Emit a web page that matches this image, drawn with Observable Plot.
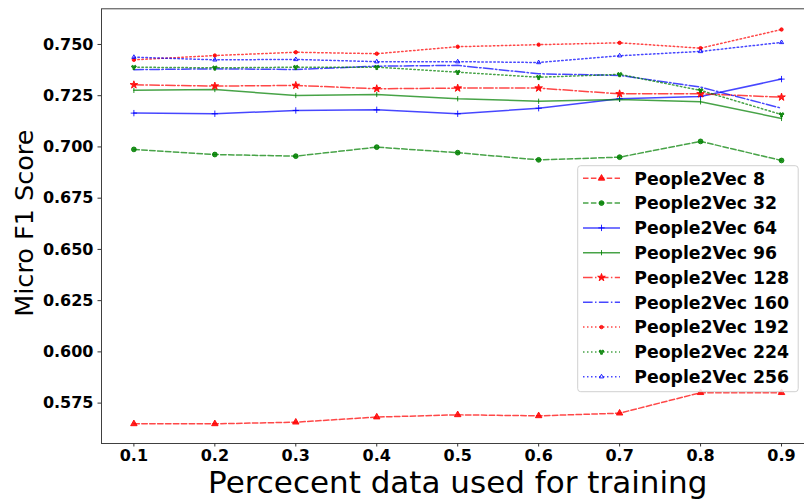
<!DOCTYPE html>
<html>
<head>
<meta charset="utf-8">
<script src="https://cdn.jsdelivr.net/npm/d3@7"></script>
<script src="https://cdn.jsdelivr.net/npm/@observablehq/plot@0.6"></script>
<style>
  html, body { margin: 0; padding: 0; background: #fff; overflow: hidden; }
  #chart { position: relative; width: 804px; height: 500px; overflow: hidden; }
  #chart svg { overflow: hidden; }
  #legend { position: absolute; left: 0; top: 0; }
</style>
</head>
<body>
<div id="chart"></div>
<script>
// Fraction of the data used for training (x axis)
const fractions = [0.1, 0.2, 0.3, 0.4, 0.5, 0.6, 0.7, 0.8, 0.9];

// Micro F1 score per embedding size
const p2v8   = [0.5649, 0.5649, 0.5657, 0.5682, 0.5693, 0.5688, 0.5701, 0.5801, 0.5801];
const p2v32  = [0.6988, 0.6963, 0.6955, 0.6999, 0.6972, 0.6937, 0.6950, 0.7027, 0.6934];
const p2v64  = [0.7165, 0.7162, 0.7178, 0.7181, 0.7162, 0.7189, 0.7235, 0.7246, 0.7331];
const p2v96  = [0.7276, 0.7280, 0.7251, 0.7256, 0.7235, 0.7223, 0.7232, 0.7220, 0.7139];
const p2v128 = [0.7303, 0.7297, 0.7300, 0.7284, 0.7287, 0.7287, 0.7259, 0.7259, 0.7243];
const p2v160 = [0.7377, 0.7381, 0.7378, 0.7394, 0.7398, 0.7357, 0.7349, 0.7292, 0.7189];
const p2v192 = [0.7425, 0.7446, 0.7462, 0.7455, 0.7489, 0.7499, 0.7508, 0.7482, 0.7573];
const p2v224 = [0.7389, 0.7386, 0.7389, 0.7389, 0.7365, 0.7340, 0.7354, 0.7276, 0.7158];
const p2v256 = [0.7438, 0.7425, 0.7427, 0.7416, 0.7416, 0.7412, 0.7445, 0.7466, 0.7510];

const seriesNames  = ["People2Vec 8", "People2Vec 32", "People2Vec 64", "People2Vec 96", "People2Vec 128",
                      "People2Vec 160", "People2Vec 192", "People2Vec 224", "People2Vec 256"];
const seriesValues = [p2v8, p2v32, p2v64, p2v96, p2v128, p2v160, p2v192, p2v224, p2v256];

// Tick values and axis titles
const yTicks = [0.575, 0.600, 0.625, 0.650, 0.675, 0.700, 0.725, 0.750];
const xTicks = fractions;
const xTitle = "Percecent data used for training";
const yTitle = "Micro F1 Score";

// Line styling: colour, dash pattern and marker per series
const RED = "#ff0000", GREEN = "#008000", BLUE = "#0000ff";
const DASHED = "5.5,2.4", DASHDOT = "9.6,2.4,1.5,2.4", DOTTED = "1.5,2.5", SOLID = null;

// a short vertical bar marker
const vline = {
  draw(context, size) {
    const r = Math.sqrt(size / Math.PI);
    context.moveTo(0, -r);
    context.lineTo(0, r);
  }
};

const styles = [
  {color: RED,   dash: DASHED,  symbol: d3.symbolTriangle,  r: 2.4, filled: true},
  {color: GREEN, dash: DASHED,  symbol: d3.symbolCircle,    r: 2.4, filled: true},
  {color: BLUE,  dash: SOLID,   symbol: d3.symbolPlus,      r: 2.2, filled: false},
  {color: GREEN, dash: SOLID,   symbol: vline,              r: 2.6, filled: false},
  {color: RED,   dash: DASHDOT, symbol: d3.symbolStar,      r: 2.4, filled: true},
  {color: BLUE,  dash: DASHDOT, symbol: null,               r: 0,   filled: true},
  {color: RED,   dash: DOTTED,  symbol: d3.symbolCircle,    r: 1.7, filled: true},
  {color: GREEN, dash: DOTTED,  symbol: d3.symbolWye,       r: 1.9, filled: true},
  {color: BLUE,  dash: DOTTED,  symbol: d3.symbolTriangle2, r: 2.0, filled: false}
];

const rows = seriesValues.map((vals, i) =>
  vals.map((v, j) => ({fraction: fractions[j], score: v, series: seriesNames[i]}))
);

const marks = [];
rows.forEach((data, i) => {
  const s = styles[i];
  marks.push(Plot.line(data, {
    x: "fraction", y: "score",
    stroke: s.color, strokeWidth: 1.5, strokeOpacity: 0.72,
    strokeDasharray: s.dash || undefined
  }));
  if (s.symbol) {
    marks.push(Plot.dot(data, {
      x: "fraction", y: "score", symbol: () => s.symbol, r: s.r,
      fill: s.filled ? s.color : "none", stroke: s.color, strokeWidth: 1,
      fillOpacity: 0.85, strokeOpacity: 0.85
    }));
  }
});

marks.push(
  Plot.frame({stroke: "#404040", strokeWidth: 1}),
  Plot.axisY(yTicks, {
    tickFormat: d3.format(".3f"), tickSize: 3.5, tickPadding: 4.5,
    fontSize: 16, fontWeight: "bold", label: null, stroke: "#333"
  }),
  Plot.axisX(xTicks, {
    tickFormat: d3.format(".1f"), tickSize: 3.5, tickPadding: 3,
    fontSize: 16, fontWeight: "bold", label: null, stroke: "#333"
  }),
  Plot.text([xTitle], {
    frameAnchor: "bottom", dy: 49, lineAnchor: "bottom", textAnchor: "middle",
    text: d => d, fontSize: 31, fill: "#000"
  }),
  Plot.text([yTitle], {
    frameAnchor: "left", dx: -69, dy: -3, rotate: -90, lineAnchor: "bottom", textAnchor: "middle",
    text: d => d, fontSize: 25.5, fill: "#000"
  })
);

const chart = Plot.plot({
  width: 804,
  height: 500,
  marginLeft: 101,
  marginRight: -9.4,
  marginTop: 8.3,
  marginBottom: 57,
  x: {domain: [0.06, 0.94]},
  y: {domain: [0.5553, 0.7674]},
  style: {fontFamily: "'DejaVu Sans', sans-serif", color: "#000", background: "#fff"},
  marks
});
document.getElementById("chart").appendChild(chart);

// Legend box in the lower right of the plot area
const lg = d3.select("#chart").append("svg")
  .attr("id", "legend")
  .attr("width", 804).attr("height", 500)
  .style("pointer-events", "none");
const box = {x: 577.7, y: 165.7, w: 220.5, h: 226};
lg.append("rect")
  .attr("x", box.x).attr("y", box.y).attr("width", box.w).attr("height", box.h)
  .attr("rx", 3).attr("fill", "#fff").attr("fill-opacity", 0.85)
  .attr("stroke", "#d0d0d0").attr("stroke-width", 1);
seriesNames.forEach((name, i) => {
  const s = styles[i];
  const cy = box.y + 12.6 + i * 24.8;
  const g = lg.append("g");
  g.append("line")
    .attr("x1", box.x + 5.3).attr("x2", box.x + 42.3)
    .attr("y1", cy).attr("y2", cy)
    .attr("stroke", s.color).attr("stroke-width", 1.5).attr("stroke-opacity", 0.72)
    .attr("stroke-dasharray", s.dash);
  if (s.symbol) {
    g.append("path")
      .attr("transform", `translate(${box.x + 23.8},${cy})`)
      .attr("d", d3.symbol(s.symbol, Math.PI * s.r * s.r)())
      .attr("fill", s.filled ? s.color : "none")
      .attr("stroke", s.color).attr("stroke-width", 1)
      .attr("fill-opacity", 0.85).attr("stroke-opacity", 0.85);
  }
  g.append("text")
    .attr("x", box.x + 56.6).attr("y", cy)
    .attr("dy", "0.36em")
    .attr("font-family", "'DejaVu Sans', sans-serif")
    .attr("font-size", 17.3).attr("font-weight", "bold")
    .attr("fill", "#000")
    .text(name);
});
</script>
</body>
</html>
